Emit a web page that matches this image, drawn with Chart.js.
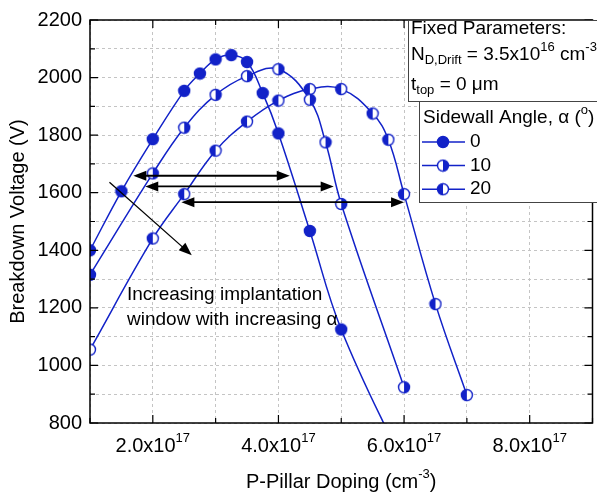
<!DOCTYPE html>
<html>
<head>
<meta charset="utf-8">
<script src="https://cdn.jsdelivr.net/npm/chart.js@4.4.0/dist/chart.umd.min.js"></script>
<style>
  html, body { margin: 0; padding: 0; background: #fff; overflow: hidden; }
  #chart { display: block; }
</style>
</head>
<body>
<canvas id="chart" width="600" height="495"></canvas>
<script>
// breakdown voltage (V) vs p-pillar doping (cm^-3), one list per sidewall angle
const doping0 = [1.0e17, 1.5e17, 2.0e17, 2.5e17, 2.75e17, 3.0e17, 3.25e17, 3.5e17, 3.75e17, 4.0e17, 4.5e17, 5.0e17, 6.0e17];
const bv0 = [1400, 1605, 1786, 1954, 2014, 2063, 2078, 2054, 1946, 1806, 1467, 1125, 650];

const doping10 = [1.0e17, 2.0e17, 2.5e17, 3.0e17, 3.5e17, 4.0e17, 4.5e17, 4.75e17, 5.0e17, 6.0e17];
const bv10 = [1315, 1667, 1826, 1940, 2005, 2029, 1923, 1775, 1561, 924];

const doping20 = [1.0e17, 2.0e17, 2.5e17, 3.0e17, 3.5e17, 4.0e17, 4.5e17, 5.0e17, 5.5e17, 5.75e17, 6.0e17, 6.5e17, 7.0e17];
const bv20 = [1055, 1441, 1595, 1746, 1847, 1920, 1960, 1960, 1875, 1784, 1595, 1213, 897];

const angles = ["0", "10", "20"];

// implantation window arrows: start / end doping at a voltage
const windowFrom = [1.69e17, 1.88e17, 2.455e17];
const windowTo = [4.18e17, 4.88e17, 6.0e17];
const windowAt = [1659, 1622, 1567];
// trend arrow [doping, voltage]
const trendFrom = [1.31e17, 1636];
const trendTo = [2.62e17, 1383];

const xLabelTicks = [2e17, 4e17, 6e17, 8e17];

const FONT = "'Liberation Sans', Arial, sans-serif";
const BLUE = "#1222c8";
Chart.defaults.font.family = FONT;

const makeMarker = (half) => {
  const c = document.createElement("canvas");
  c.width = 14;
  c.height = 14;
  const g = c.getContext("2d");
  const m = 7, r = 5.5;
  g.beginPath();
  g.arc(m, m, r, 0, Math.PI * 2);
  g.fillStyle = half == "full" ? BLUE : "#fff";
  g.fill();
  if (half == "right" || half == "left") {
    g.beginPath();
    if (half == "right") g.arc(m, m, r, -Math.PI / 2, Math.PI / 2);
    else g.arc(m, m, r, Math.PI / 2, Math.PI * 1.5);
    g.closePath();
    g.fillStyle = BLUE;
    g.fill();
  }
  g.beginPath();
  g.arc(m, m, r, 0, Math.PI * 2);
  g.lineWidth = 1.4;
  g.strokeStyle = BLUE;
  g.stroke();
  return c;
};
const markers = [makeMarker("full"), makeMarker("right"), makeMarker("left")];

const toPoints = (xs, ys) => xs.map((x, i) => ({ x: x, y: ys[i] }));

// text with sub/superscript pieces: [text, shift] shift 1 = sup, -1 = sub
const drawRuns = (ctx, runs, x, y, size, align) => {
  const small = Math.round(size * 0.66);
  let total = 0;
  runs.forEach(([t, s]) => {
    ctx.font = (s ? small : size) + "px " + FONT;
    total += ctx.measureText(t).width;
  });
  let cx = align == "center" ? x - total / 2 : x;
  ctx.textAlign = "left";
  ctx.textBaseline = "middle";
  ctx.fillStyle = "#000";
  runs.forEach(([t, s]) => {
    ctx.font = (s ? small : size) + "px " + FONT;
    const dy = s == 1 ? -size * 0.38 : s == -1 ? size * 0.3 : 0;
    ctx.fillText(t, cx, y + dy);
    cx += ctx.measureText(t).width;
  });
};

const arrowHead = (ctx, x1, y1, x2, y2) => {
  const a = Math.atan2(y2 - y1, x2 - x1);
  const len = 13, w = 5;
  ctx.beginPath();
  ctx.moveTo(x2, y2);
  ctx.lineTo(x2 - len * Math.cos(a) + w * Math.sin(a), y2 - len * Math.sin(a) - w * Math.cos(a));
  ctx.lineTo(x2 - len * Math.cos(a) - w * Math.sin(a), y2 - len * Math.sin(a) + w * Math.cos(a));
  ctx.closePath();
  ctx.fill();
};

const decorations = {
  id: "decorations",
  afterDatasetsDraw(chart) {
    const ctx = chart.ctx;
    const xs = chart.scales.x, ys = chart.scales.y;
    ctx.save();
    ctx.strokeStyle = "#000";
    ctx.fillStyle = "#000";
    ctx.lineWidth = 1.8;
    windowAt.forEach((v, i) => {
      const y = ys.getPixelForValue(v);
      const a = xs.getPixelForValue(windowFrom[i]);
      const b = xs.getPixelForValue(windowTo[i]);
      ctx.beginPath();
      ctx.moveTo(a + 8, y);
      ctx.lineTo(b - 8, y);
      ctx.stroke();
      arrowHead(ctx, b, y, a, y);
      arrowHead(ctx, a, y, b, y);
    });
    const tx1 = xs.getPixelForValue(trendFrom[0]), ty1 = ys.getPixelForValue(trendFrom[1]);
    const tx2 = xs.getPixelForValue(trendTo[0]), ty2 = ys.getPixelForValue(trendTo[1]);
    ctx.lineWidth = 1.3;
    ctx.beginPath();
    ctx.moveTo(tx1, ty1);
    ctx.lineTo(tx2 - 6, ty2 - 5.3);
    ctx.stroke();
    arrowHead(ctx, tx1, ty1, tx2, ty2);

    drawRuns(ctx, [["Increasing implantation", 0]], 127, 295, 19, "left");
    drawRuns(ctx, [["window with increasing α", 0]], 127, 320, 19, "left");
    ctx.restore();
  },
  afterDraw(chart) {
    const ctx = chart.ctx;
    const area = chart.chartArea;
    const xs = chart.scales.x, ys = chart.scales.y;
    ctx.save();
    // frame
    ctx.strokeStyle = "#000";
    ctx.lineWidth = 1.5;
    ctx.strokeRect(area.left, area.top, area.right - area.left, area.bottom - area.top);
    // inward ticks on all four sides
    ctx.lineWidth = 1.2;
    ctx.beginPath();
    xs.ticks.forEach((t) => {
      const x = xs.getPixelForValue(t.value);
      const len = Math.round(t.value / 1e17) % 2 == 0 ? 8 : 5;
      ctx.moveTo(x, area.bottom);
      ctx.lineTo(x, area.bottom - len);
      ctx.moveTo(x, area.top);
      ctx.lineTo(x, area.top + len);
    });
    ys.ticks.forEach((t) => {
      const y = ys.getPixelForValue(t.value);
      const len = t.value % 200 == 0 ? 8 : 5;
      ctx.moveTo(area.left, y);
      ctx.lineTo(area.left + len, y);
      ctx.moveTo(area.right, y);
      ctx.lineTo(area.right - len, y);
    });
    ctx.stroke();

    // x tick labels and title
    xLabelTicks.forEach((v) => {
      const x = xs.getPixelForValue(v);
      drawRuns(ctx, [[(v / 1e17).toFixed(1) + "x10", 0], ["17", 1]], x, 446, 20, "center");
    });
    drawRuns(ctx, [["P-Pillar Doping (cm", 0], ["-3", 1], [")", 0]], (area.left + area.right) / 2, 482, 20, "center");

    // parameter box
    ctx.fillStyle = "#fff";
    ctx.strokeStyle = "#444";
    ctx.lineWidth = 1;
    ctx.fillRect(408, area.top, 200, 101 - area.top);
    ctx.strokeRect(408.5, area.top + 0.5, 200, 101 - area.top);
    drawRuns(ctx, [["Fixed Parameters:", 0]], 411, 29, 19, "left");
    drawRuns(ctx, [["N", 0], ["D,Drift", -1], [" = 3.5x10", 0], ["16", 1], [" cm", 0], ["-3", 1]], 411, 55, 19, "left");
    drawRuns(ctx, [["t", 0], ["top", -1], [" = 0 μm", 0]], 411, 85, 19, "left");

    // legend box
    ctx.fillStyle = "#fff";
    ctx.fillRect(419, 101, 200, 101);
    ctx.strokeRect(419.5, 101.5, 200, 101);
    drawRuns(ctx, [["Sidewall Angle, α (", 0], ["o", 1], [")", 0]], 423, 118, 19, "left");
    angles.forEach((a, i) => {
      const y = 142 + i * 23.6;
      ctx.strokeStyle = BLUE;
      ctx.lineWidth = 1.5;
      ctx.beginPath();
      ctx.moveTo(422, y);
      ctx.lineTo(465, y);
      ctx.stroke();
      ctx.drawImage(markers[i], 443 - 7, y - 7);
      drawRuns(ctx, [[a, 0]], 470, y, 19, "left");
    });
    ctx.restore();
  },
};

const series = [toPoints(doping0, bv0), toPoints(doping10, bv10), toPoints(doping20, bv20)];

new Chart("chart", {
  type: "line",
  data: {
    datasets: series.map((pts, i) => ({
      label: angles[i],
      data: pts,
      borderColor: BLUE,
      borderWidth: 1.5,
      tension: 0.4,
      pointStyle: markers[i],
      pointRadius: 6,
      fill: false,
    })),
  },
  options: {
    responsive: false,
    animation: false,
    events: [],
    layout: { padding: { top: 14, right: 0, left: 0, bottom: 0 } },
    plugins: { legend: { display: false }, tooltip: { enabled: false } },
    scales: {
      x: {
        type: "linear",
        min: 1e17,
        max: 9e17,
        ticks: { display: false, stepSize: 1e17 },
        grid: { color: "#c4c4c4", drawTicks: false },
        border: { display: false, dash: [3, 3] },
        afterFit: (s) => { s.height = 72; },
      },
      y: {
        min: 800,
        max: 2200,
        ticks: {
          stepSize: 100,
          padding: 8,
          color: "#000",
          font: { size: 20 },
          callback: (v) => (v % 200 == 0 ? v : ""),
        },
        grid: { color: "#c4c4c4", drawTicks: false },
        border: { display: false, dash: [3, 3] },
        title: {
          display: true,
          text: "Breakdown Voltage (V)",
          color: "#000",
          font: { size: 20 },
          padding: { top: 6, bottom: 0 },
        },
        afterFit: (s) => { s.width = 90; },
      },
    },
  },
  plugins: [decorations],
});
</script>
</body>
</html>
